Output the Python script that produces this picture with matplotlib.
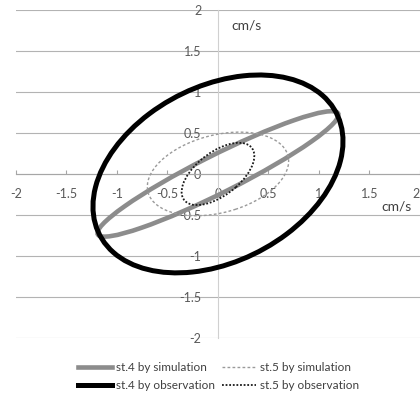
import matplotlib
matplotlib.use("Agg")
import matplotlib.pyplot as plt
from matplotlib.patches import Ellipse
from matplotlib.lines import Line2D

plt.rcParams['font.family'] = ['Lato', 'DejaVu Sans']
plt.rcParams['axes.unicode_minus'] = False

# current ellipses: semi-major, semi-minor (cm/s), inclination (deg)
names = ["st.4 by simulation", "st.4 by observation", "st.5 by simulation", "st.5 by observation"]
semi_major = [1.40, 1.41, 0.73, 0.465]
semi_minor = [0.22, 1.00, 0.465, 0.24]
inclination = [32.0, 42.8, 21.8, 47.7]

styles = [
    dict(color='#8c8c8c', lw=3.3, ls='-'),
    dict(color='#000000', lw=3.6, ls='-'),
    dict(color='#9a9a9a', lw=1.0, ls=(0, (2, 1.6))),
    dict(color='#1a1a1a', lw=1.3, ls=(0, (1, 1))),
]

ticks = [-2, -1.5, -1, -0.5, 0, 0.5, 1, 1.5, 2]

fig = plt.figure(figsize=(4.2, 3.98), dpi=100)
ax = fig.add_axes([0.038, 0.151, 0.962, 0.824])

for a, b, ang, st in zip(semi_major, semi_minor, inclination, styles):
    e = Ellipse((0, 0), 2 * a, 2 * b, angle=ang, fill=False,
                edgecolor=st['color'], linewidth=st['lw'], linestyle=st['ls'], zorder=3)
    ax.add_patch(e)

ax.set_xlim(-2, 2)
ax.set_ylim(-2, 2)
ax.set_xticks(ticks)
ax.set_yticks(ticks)
ax.set_xticklabels(['{:g}'.format(t) for t in ticks])
ax.set_yticklabels(['{:g}'.format(t) for t in ticks])

for s in ['top', 'right']:
    ax.spines[s].set_visible(False)
ax.spines['bottom'].set_position('zero')
ax.spines['left'].set_position('zero')
ax.spines['bottom'].set_color('#a6a6a6')
ax.spines['left'].set_color('#d0d0d0')
ax.spines['bottom'].set_linewidth(0.8)
ax.spines['left'].set_linewidth(0.8)

ax.yaxis.grid(True, color='#b3b3b3', linewidth=0.8)
ax.set_axisbelow(True)
ax.tick_params(axis='x', direction='in', length=3, color='#a6a6a6', pad=10,
               labelsize=9, labelcolor='#595959')
ax.tick_params(axis='y', length=0, pad=12, labelsize=9, labelcolor='#595959')

ax.text(0.13, 1.81, 'cm/s', fontsize=10, color='#404040', va='center')
ax.text(1.62, -0.40, 'cm/s', fontsize=10, color='#404040', va='center')

handles = [Line2D([], [], color=st['color'], lw=st['lw'], ls=st['ls']) for st in styles]
fig.legend(handles, names, loc='center', bbox_to_anchor=(0.52, 0.053), ncol=2,
           frameon=False, fontsize=8.5, handlelength=2.9, handletextpad=0.3,
           columnspacing=0.6, labelspacing=0.6, labelcolor='#404040')

# last x label sits at the figure edge: keep it inside
fig.canvas.draw()
ax.xaxis.get_major_ticks()[-1].label1.set_horizontalalignment('right')

fig.savefig('out.png', dpi=100)
